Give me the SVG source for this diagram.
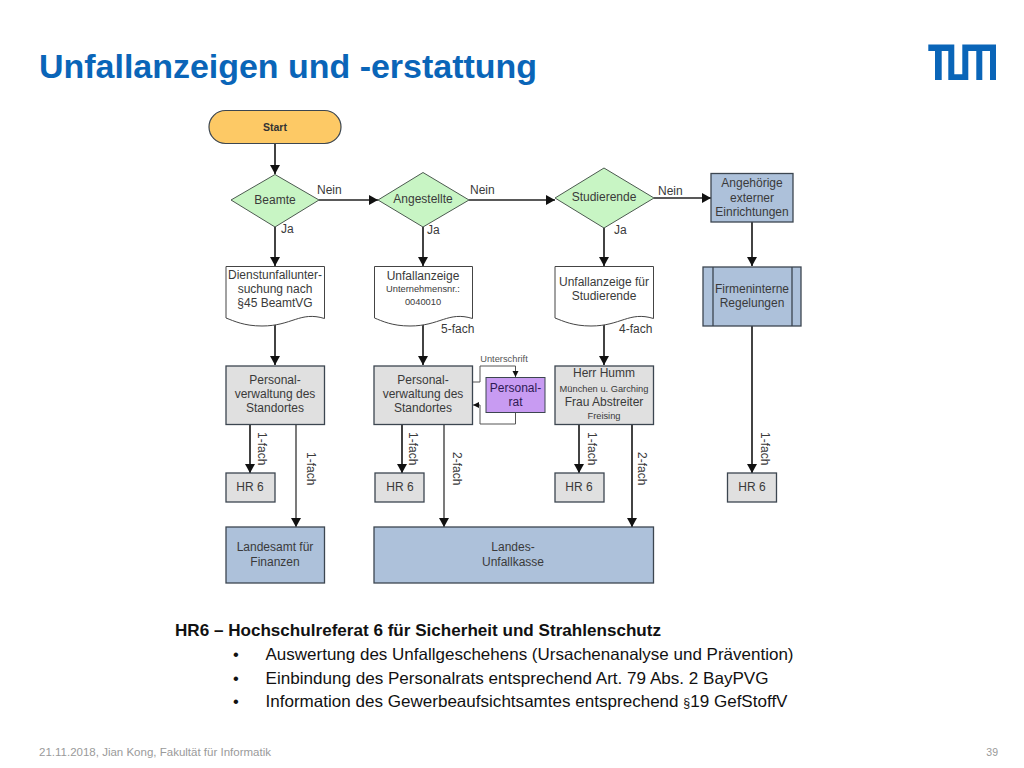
<svg xmlns="http://www.w3.org/2000/svg" width="1024" height="768" viewBox="0 0 1024 768">
<style>
text{font-family:"Liberation Sans",Arial,sans-serif}
.n{font-size:12px;fill:#3a3a3a;text-anchor:middle}
.s{font-size:9.300px;fill:#3a3a3a;text-anchor:middle}
.l{font-size:12px;fill:#3a3a3a}
.box{stroke:#3c4650;stroke-width:1.3}
.g{fill:#e0e0e0}.b{fill:#adc1da}.d{fill:#c8f5c4;stroke:#4c5a50;stroke-width:1}
.doc{fill:#fff;stroke:#444;stroke-width:1}
.c{fill:none;stroke:#222;stroke-width:1.700}
.t{fill:none;stroke:#555;stroke-width:1}
.b2{font-size:16.500px;fill:#111}
</style>
<defs>
<marker id="a" markerUnits="userSpaceOnUse" markerWidth="11" markerHeight="11" refX="9" refY="5" orient="auto"><path d="M0 0L9 5L0 10Z" fill="#111"/></marker>
<marker id="a2" markerUnits="userSpaceOnUse" markerWidth="7" markerHeight="7" refX="6" refY="3" orient="auto"><path d="M0 0L6 3L0 6Z" fill="#111"/></marker>
</defs>
<rect width="1024" height="768" fill="#fff"/>
<text id="title" x="39" y="78" font-size="34" font-weight="bold" fill="#0a65b8" textLength="498" lengthAdjust="spacingAndGlyphs">Unfallanzeigen und -erstattung</text>
<path id="logo" fill="#0a65b8" d="M928.3 44.500H954.300V74.300H962.300V44.500H996V80H990V51H982.300V80H976.300V51H968.300V80H948.300V51H941.700V80H935V51H928.300Z"/>
<g id="connectors">
<path class="c" marker-end="url(#a)" d="M275 144V174"/>
<path class="c" marker-end="url(#a)" d="M319 200H378"/>
<path class="c" marker-end="url(#a)" d="M469 200H555"/>
<path class="c" marker-end="url(#a)" d="M654 198H711"/>
<path class="c" marker-end="url(#a)" d="M275 227V266"/>
<path class="c" marker-end="url(#a)" d="M423 227V266"/>
<path class="c" marker-end="url(#a)" d="M604 228V266"/>
<path class="c" marker-end="url(#a)" d="M752 222V266"/>
<path class="c" marker-end="url(#a)" d="M275 318V365"/>
<path class="c" marker-end="url(#a)" d="M423 318V365"/>
<path class="c" marker-end="url(#a)" d="M604 318V365"/>
<path class="c" marker-end="url(#a)" d="M752 326V473"/>
<path class="c" marker-end="url(#a)" d="M250 424V473"/>
<path class="c" style="stroke-width:1.200" marker-end="url(#a)" d="M296 424V527"/>
<path class="c" marker-end="url(#a)" d="M402 424V473"/>
<path class="c" style="stroke-width:1.200" marker-end="url(#a)" d="M444 424V527"/>
<path class="c" marker-end="url(#a)" d="M579 424V473"/>
<path class="c" marker-end="url(#a)" d="M632 424V527"/>
<path class="t" marker-end="url(#a2)" d="M473 382H480V366H515.500V377"/>
<path class="t" marker-end="url(#a2)" d="M515.500 413V424H480V405H473"/>
</g>
<g id="start"><rect x="209" y="110.500" width="132" height="33" rx="16.500" fill="#fdc965" stroke="#3c4650" stroke-width="1.200"/><text x="275" y="130.500" font-size="10.500" font-weight="bold" text-anchor="middle" fill="#333">Start</text></g>
<g id="d1"><path class="d" d="M275 174.500L319 200L275 227L231 200Z"/><text class="n" x="275" y="204">Beamte</text></g>
<g id="d2"><path class="d" d="M423 172.500L469 200L423 227L378 200Z"/><text class="n" x="423" y="203">Angestellte</text></g>
<g id="d3"><path class="d" d="M604 168L654 198L604 228L555 198Z"/><text class="n" x="604" y="201">Studierende</text></g>
<g id="ext"><rect class="box b" x="711" y="173.500" width="82" height="48.500"/><text class="n" x="752" y="187">Angehörige</text><text class="n" x="752" y="202">externer</text><text class="n" x="752" y="216">Einrichtungen</text></g>
<g id="doc1"><path class="doc" d="M226 266.500H324.500V318.500C300 311 292 326 262 326C244 326 234 321 226 318Z"/><text class="n" x="275" y="279">Dienstunfallunter-</text><text class="n" x="275" y="293">suchung nach</text><text class="n" x="275" y="307">§45 BeamtVG</text></g>
<g id="doc2"><path class="doc" d="M374.500 266.500H472.500V318.500C448 311 440 326 410 326C392 326 382 321 374.500 318Z"/><text class="n" x="423" y="280">Unfallanzeige</text><text class="s" x="423" y="292">Unternehmensnr.:</text><text class="s" x="423" y="305">0040010</text></g>
<g id="doc3"><path class="doc" d="M555 266.500H653.500V318.500C629 311 621 326 591 326C573 326 563 321 555 318Z"/><text class="n" x="604" y="286">Unfallanzeige für</text><text class="n" x="604" y="300">Studierende</text></g>
<g id="firm"><rect class="box b" x="703" y="267" width="98" height="59"/><path class="box" fill="none" d="M713 267V326M792 267V326"/><text class="n" x="752" y="293">Firmeninterne</text><text class="n" x="752" y="307">Regelungen</text></g>
<g id="pv1"><rect class="box g" x="226" y="366" width="98.500" height="58.500"/><text class="n" x="275" y="384">Personal-</text><text class="n" x="275" y="398">verwaltung des</text><text class="n" x="275" y="412">Standortes</text></g>
<g id="pv2"><rect class="box g" x="374" y="366" width="98.500" height="58.500"/><text class="n" x="423" y="384">Personal-</text><text class="n" x="423" y="398">verwaltung des</text><text class="n" x="423" y="412">Standortes</text></g>
<g id="pr"><rect x="486" y="377.500" width="59" height="35" fill="#c89bf2" stroke="#3c4650" stroke-width="1"/><text class="n" x="515.500" y="392" style="fill:#2f1a55">Personal-</text><text class="n" x="515.500" y="406" style="fill:#2f1a55">rat</text></g>
<g id="humm"><rect class="box g" x="555" y="366" width="98.500" height="58.500"/><text class="n" x="604" y="377">Herr Humm</text><text class="s" x="604" y="391.500">München u. Garching</text><text class="n" x="604" y="406">Frau Abstreiter</text><text class="s" x="604" y="419">Freising</text></g>
<g id="hr1"><rect class="box g" x="226" y="473" width="49" height="29"/><text class="n" x="250" y="491">HR 6</text></g>
<g id="hr2"><rect class="box g" x="375" y="473" width="49" height="29"/><text class="n" x="400" y="491">HR 6</text></g>
<g id="hr3"><rect class="box g" x="555" y="473" width="49" height="29"/><text class="n" x="579" y="491">HR 6</text></g>
<g id="hr4"><rect class="box g" x="727.500" y="473" width="49" height="29"/><text class="n" x="752" y="491">HR 6</text></g>
<g id="lfa"><rect class="box b" x="226" y="527" width="98.500" height="56"/><text class="n" x="275" y="551">Landesamt für</text><text class="n" x="275" y="566">Finanzen</text></g>
<g id="luk"><rect class="box b" x="374" y="527" width="279.500" height="56"/><text class="n" x="513" y="551">Landes-</text><text class="n" x="513" y="566">Unfallkasse</text></g>
<g id="labels">
<text class="l" x="317" y="194">Nein</text><text class="l" x="470" y="194">Nein</text><text class="l" x="658" y="195">Nein</text>
<text class="l" x="281" y="233">Ja</text><text class="l" x="427" y="234">Ja</text><text class="l" x="614" y="234">Ja</text>
<text class="l" x="441" y="333">5-fach</text><text class="l" x="619" y="333">4-fach</text>
<text x="504" y="362" font-size="9.300" text-anchor="middle" fill="#555">Unterschrift</text>
<text class="l" transform="translate(258 432) rotate(90)">1-fach</text>
<text class="l" transform="translate(307 452) rotate(90)">1-fach</text>
<text class="l" transform="translate(409 432) rotate(90)">1-fach</text>
<text class="l" transform="translate(453 452) rotate(90)">2-fach</text>
<text class="l" transform="translate(588 432) rotate(90)">1-fach</text>
<text class="l" transform="translate(638 452) rotate(90)">2-fach</text>
<text class="l" transform="translate(761 432) rotate(90)">1-fach</text>
</g>
<g id="notes">
<text x="175" y="636" font-size="16.500" font-weight="bold" fill="#111" textLength="486" lengthAdjust="spacingAndGlyphs">HR6 – Hochschulreferat 6 für Sicherheit und Strahlenschutz</text>
<text class="b2" x="233" y="660">•</text><text class="b2" x="265.500" y="660" textLength="528" lengthAdjust="spacingAndGlyphs">Auswertung des Unfallgeschehens (Ursachenanalyse und Prävention)</text>
<text class="b2" x="233" y="684">•</text><text class="b2" x="265.500" y="684" textLength="503" lengthAdjust="spacingAndGlyphs">Einbindung des Personalrats entsprechend Art. 79 Abs. 2 BayPVG</text>
<text class="b2" x="233" y="707">•</text><text class="b2" x="265.500" y="707" textLength="522" lengthAdjust="spacingAndGlyphs">Information des Gewerbeaufsichtsamtes entsprechend <tspan font-size="12">§</tspan>19 GefStoffV</text>
</g>
<g id="footer" fill="#9a9a9a" font-size="10.500"><text x="39" y="756" textLength="232" lengthAdjust="spacingAndGlyphs">21.11.2018, Jian Kong, Fakultät für Informatik</text><text x="998" y="756" text-anchor="end">39</text></g>
</svg>
